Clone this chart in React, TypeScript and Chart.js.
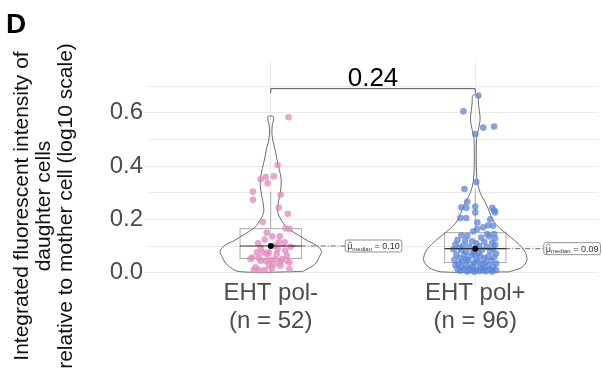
import React, { useEffect, useRef } from 'react';
import { Chart, registerables } from 'chart.js';

Chart.register(...registerables);

// ---------------- data ----------------
const categories = ['EHT pol-', 'EHT pol+'];
const groupSizes = [52, 96];
const yTickValues = [0, 0.1, 0.2, 0.3, 0.4, 0.5, 0.6, 0.7];
const yTickLabels = ['0.0', '', '0.2', '', '0.4', '', '0.6', ''];
const yTitleLines = ['Integrated fluorescent intensity of', 'daughter cells', 'relative to mother cell (log10 scale)'];
const panelTag = 'D';
const pValueLabel = '0.24';
const medianValues = [0.10, 0.09];
const medianLabels = ['0.10', '0.09'];
const q1Values = [0.053, 0.038];
const q3Values = [0.165, 0.15];
const whiskerLowValues = [0.004, 0.003];
const whiskerHighValues = [0.304, 0.314];

const polMinusValues = [
  0.583, 0.404, 0.361, 0.359, 0.350, 0.335, 0.304, 0.292, 0.273, 0.244, 0.221, 0.190, 0.166, 0.164,
  0.136, 0.136, 0.124, 0.110, 0.114, 0.114, 0.101, 0.076, 0.076, 0.070, 0.089, 0.083, 0.057, 0.051,
  0.045, 0.045, 0.048, 0.051, 0.064, 0.045, 0.051, 0.026, 0.014, 0.010, 0.010, 0.010, 0.020, 0.030,
  0.038, 0.076, 0.055, 0.030, 0.097, 0.039, 0.071, 0.094, 0.150, 0.015,
];
const polMinusJitter = [
  0.087, 0.034, 0.015, -0.024, -0.049, -0.015, -0.087, 0.049, -0.087, 0.039, 0.083, -0.039, 0.073, 0.092,
  0.008, 0.045, -0.029, -0.062, 0.039, 0.068, 0.019, -0.067, -0.039, -0.018, 0.034, 0.071, -0.091, -0.099,
  -0.050, -0.026, -0.001, 0.055, 0.079, 0.079, 0.023, 0.047, 0.091, -0.083, -0.058, -0.029, -0.074, 0.015,
  0.092, -0.010, -0.058, -0.010, 0.097, 0.047, 0.029, -0.049, -0.019, 0.005,
];

const polPlusValues = [
  0.664, 0.605, 0.544, 0.548, 0.520, 0.340, 0.314, 0.266, 0.245, 0.243, 0.248, 0.243, 0.233, 0.226,
  0.226, 0.205, 0.205, 0.200, 0.188, 0.178, 0.170, 0.176, 0.164, 0.155, 0.145, 0.145,
  0.140, 0.138, 0.132, 0.136, 0.128,
  0.122, 0.118, 0.115, 0.112, 0.120,
  0.105, 0.102, 0.098, 0.100, 0.096, 0.104, 0.094,
  0.088, 0.085, 0.082, 0.086, 0.080, 0.078, 0.072, 0.075,
  0.068, 0.066, 0.064, 0.062, 0.060, 0.058, 0.055, 0.052, 0.054,
  0.048, 0.046, 0.045, 0.042, 0.040, 0.038, 0.036, 0.034, 0.032, 0.031,
  0.028, 0.027, 0.025, 0.024, 0.022, 0.020, 0.019, 0.018, 0.016,
  0.014, 0.013, 0.012, 0.011, 0.010, 0.009, 0.008, 0.007, 0.006, 0.005, 0.004, 0.004, 0.003,
  0.090, 0.070, 0.050, 0.110,
];
const polPlusJitter = [
  0.015, -0.058, 0.039, 0.092, 0.000, 0.005, -0.053, -0.039, -0.068, -0.044, 0.000, 0.083, 0.092, 0.097,
  0.000, -0.073, -0.044, 0.073, 0.010, 0.063, 0.039, 0.087, 0.010, -0.010, 0.092, 0.058,
  -0.068, -0.039, 0.029, 0.068, 0.097,
  -0.087, -0.015, 0.044, 0.083, -0.049,
  -0.097, -0.058, -0.029, 0.019, 0.058, 0.097, -0.078,
  -0.107, -0.068, -0.010, 0.034, 0.073, -0.044, 0.102, 0.015,
  -0.092, -0.053, -0.019, 0.024, 0.063, 0.092, -0.073, 0.005, 0.044,
  -0.102, -0.034, 0.078, -0.063, 0.015, 0.049, -0.005, 0.102, -0.083, 0.034,
  -0.097, -0.044, 0.063, -0.015, 0.087, -0.068, 0.024, 0.044, -0.029,
  -0.087, -0.053, 0.005, 0.073, 0.102, -0.019, 0.039, -0.073, 0.019, 0.053, -0.039, 0.083, -0.005,
  0.087, -0.005, -0.044, 0.005,
];

// violin density profiles: value levels and half-widths (in category units)
const violinMinusLevels = [0.004, 0.03, 0.06, 0.08, 0.10, 0.12, 0.145, 0.17, 0.20, 0.23, 0.27, 0.31, 0.35, 0.39, 0.43, 0.46, 0.49, 0.52, 0.55, 0.585];
const violinMinusHalfWidth = [0.155, 0.214, 0.238, 0.248, 0.228, 0.180, 0.126, 0.078, 0.049, 0.034, 0.039, 0.049, 0.051, 0.041, 0.029, 0.022, 0.012, 0.006, 0.007, 0.014];
const violinPlusLevels = [0.003, 0.02, 0.045, 0.07, 0.09, 0.12, 0.15, 0.18, 0.21, 0.24, 0.27, 0.30, 0.34, 0.40, 0.46, 0.50, 0.525, 0.55, 0.58, 0.61, 0.64, 0.665];
const violinPlusHalfWidth = [0.165, 0.228, 0.252, 0.248, 0.233, 0.194, 0.146, 0.102, 0.078, 0.063, 0.044, 0.024, 0.010, 0.005, 0.005, 0.006, 0.012, 0.019, 0.024, 0.019, 0.015, 0.012];

// ---------------- styling ----------------
const FONT = "'Liberation Sans', Arial, Helvetica, sans-serif";
const PINK = 'rgba(228,140,192,0.78)';
const BLUE = 'rgba(92,134,218,0.75)';
const GRID = '#ebebeb';
const TEXT_GREY = '#4d4d4d';
const BOX_HALF = 0.15;
const LABEL_OFFSETS = [0.364, 0.335];
const BRACKET_Y = 0.69;
const BRACKET_DROP = 0.016;
const PTEXT_Y = 0.70;

function drawMedianLabel(ctx: CanvasRenderingContext2D, xLeft: number, yc: number, value: string) {
  const pad = 2;
  ctx.font = `9px ${FONT}`;
  const muW = ctx.measureText('μ').width;
  const restText = ` = ${value}`;
  const restW = ctx.measureText(restText).width;
  ctx.font = `6px ${FONT}`;
  const subW = ctx.measureText('median').width;
  const w = pad * 2 + muW + subW + restW;
  const h = 12;
  const top = yc - h / 2;
  ctx.save();
  ctx.beginPath();
  (ctx as any).roundRect(xLeft, top, w, h, 2);
  ctx.fillStyle = '#ffffff';
  ctx.fill();
  ctx.strokeStyle = '#777777';
  ctx.lineWidth = 0.8;
  ctx.stroke();
  ctx.fillStyle = '#333333';
  ctx.textBaseline = 'alphabetic';
  ctx.textAlign = 'left';
  let x = xLeft + pad;
  ctx.font = `9px ${FONT}`;
  ctx.fillText('μ', x, yc + 3);
  ctx.beginPath();
  ctx.moveTo(x + 0.5, top + 3);
  ctx.lineTo(x + muW / 2, top + 1.5);
  ctx.lineTo(x + muW - 0.5, top + 3);
  ctx.lineWidth = 0.6;
  ctx.strokeStyle = '#333333';
  ctx.stroke();
  x += muW;
  ctx.font = `6px ${FONT}`;
  ctx.fillText('median', x, yc + 4.5);
  x += subW;
  ctx.font = `9px ${FONT}`;
  ctx.fillText(restText, x, yc + 3);
  ctx.restore();
}

const overlayPlugin = {
  id: 'overlay',
  beforeDatasetsDraw(chart: any) {
    const { ctx, scales } = chart;
    const xs = scales.x;
    const ys = scales.y;
    ctx.save();
    for (let i = 0; i < categories.length; i++) {
      const c = i + 1;
      const xc = xs.getPixelForValue(c);
      const l = xs.getPixelForValue(c - BOX_HALF);
      const r = xs.getPixelForValue(c + BOX_HALF);
      const t = ys.getPixelForValue(q3Values[i]);
      const b = ys.getPixelForValue(q1Values[i]);
      ctx.strokeStyle = '#ababab';
      ctx.lineWidth = 1;
      ctx.strokeRect(l, t, r - l, b - t);
      ctx.beginPath();
      ctx.moveTo(xc, t);
      ctx.lineTo(xc, ys.getPixelForValue(whiskerHighValues[i]));
      ctx.moveTo(xc, b);
      ctx.lineTo(xc, ys.getPixelForValue(whiskerLowValues[i]));
      ctx.stroke();
    }
    ctx.restore();
  },
  afterDatasetsDraw(chart: any) {
    const { ctx, scales } = chart;
    const xs = scales.x;
    const ys = scales.y;
    ctx.save();
    for (let i = 0; i < categories.length; i++) {
      const c = i + 1;
      const xc = xs.getPixelForValue(c);
      const ym = ys.getPixelForValue(medianValues[i]);
      const lx = xs.getPixelForValue(c + LABEL_OFFSETS[i]);
      ctx.beginPath();
      ctx.setLineDash([5, 2, 1, 2]);
      ctx.strokeStyle = '#444444';
      ctx.lineWidth = 0.8;
      ctx.moveTo(xc, ym);
      ctx.lineTo(lx, ym);
      ctx.stroke();
      ctx.setLineDash([]);
      ctx.beginPath();
      ctx.strokeStyle = '#333333';
      ctx.lineWidth = 1.2;
      ctx.moveTo(xs.getPixelForValue(c - BOX_HALF), ym);
      ctx.lineTo(xs.getPixelForValue(c + BOX_HALF), ym);
      ctx.stroke();
      ctx.beginPath();
      ctx.fillStyle = '#000000';
      ctx.arc(xc, ym, 3, 0, Math.PI * 2);
      ctx.fill();
      drawMedianLabel(ctx, lx, ym, medianLabels[i]);
    }
    const x1 = xs.getPixelForValue(1);
    const x2 = xs.getPixelForValue(2);
    const yb = ys.getPixelForValue(BRACKET_Y);
    const yd = ys.getPixelForValue(BRACKET_Y - BRACKET_DROP);
    ctx.beginPath();
    ctx.strokeStyle = '#555555';
    ctx.lineWidth = 1;
    ctx.moveTo(x1, yd);
    ctx.lineTo(x1, yb);
    ctx.lineTo(x2, yb);
    ctx.lineTo(x2, yd);
    ctx.stroke();
    ctx.fillStyle = '#000000';
    ctx.font = `26px ${FONT}`;
    ctx.textAlign = 'center';
    ctx.textBaseline = 'alphabetic';
    ctx.fillText(pValueLabel, xs.getPixelForValue(1.5), ys.getPixelForValue(PTEXT_Y));
    ctx.restore();
  },
  afterDraw(chart: any) {
    const { ctx } = chart;
    ctx.save();
    ctx.fillStyle = '#000000';
    ctx.font = `bold 28px ${FONT}`;
    ctx.textAlign = 'left';
    ctx.textBaseline = 'alphabetic';
    ctx.fillText(panelTag, 6, 33);
    ctx.font = `21px ${FONT}`;
    ctx.fillStyle = '#111111';
    ctx.textAlign = 'center';
    ctx.textBaseline = 'middle';
    const centers = [22, 44, 66];
    yTitleLines.forEach((line, i) => {
      ctx.save();
      ctx.translate(centers[i], 206);
      ctx.rotate(-Math.PI / 2);
      ctx.fillText(line, 0, 0);
      ctx.restore();
    });
    ctx.restore();
  },
};

export default function App() {
  const ref = useRef<HTMLCanvasElement>(null);
  useEffect(() => {
    const canvas = ref.current;
    if (!canvas) return;
    Chart.defaults.font.family = FONT;
    const toPoints = (cat: number, vals: number[], jit: number[]) => vals.map((v, i) => ({ x: cat + jit[i], y: v }));
    const violinPath = (cat: number, levels: number[], half: number[]) => {
      const right = levels.map((v, i) => ({ x: cat + half[i], y: v }));
      const left = levels.map((v, i) => ({ x: cat - half[i], y: v })).reverse();
      return [...right, ...left, right[0]];
    };
    const chart = new Chart(canvas, {
      type: 'scatter',
      data: {
        datasets: [
          { data: toPoints(1, polMinusValues, polMinusJitter), backgroundColor: PINK, borderWidth: 0, pointRadius: 3.3, order: 1 } as any,
          { data: toPoints(2, polPlusValues, polPlusJitter), backgroundColor: BLUE, borderWidth: 0, pointRadius: 3.3, order: 1 } as any,
          { data: violinPath(1, violinMinusLevels, violinMinusHalfWidth), showLine: true, borderColor: '#5c5c5c', borderWidth: 0.9, pointRadius: 0, tension: 0.3, fill: false, order: 2 } as any,
          { data: violinPath(2, violinPlusLevels, violinPlusHalfWidth), showLine: true, borderColor: '#5c5c5c', borderWidth: 0.9, pointRadius: 0, tension: 0.3, fill: false, order: 2 } as any,
        ],
      },
      options: {
        responsive: false,
        animation: false,
        devicePixelRatio: 1,
        layout: { padding: { top: 62, left: 0, right: 0, bottom: 0 } },
        plugins: { legend: { display: false }, tooltip: { enabled: false } },
        scales: {
          x: {
            type: 'linear',
            min: 0.4,
            max: 2.6,
            afterBuildTicks: (s: any) => { s.ticks = [1, 2].map((v) => ({ value: v })); },
            afterFit: (s: any) => { s.height = 94; },
            grid: { color: GRID, tickColor: GRID, tickLength: 4 },
            border: { display: false },
            ticks: {
              autoSkip: false,
              maxRotation: 0,
              padding: -6,
              color: TEXT_GREY,
              font: { size: 24, lineHeight: 1.15 },
              callback: (v: any) => {
                const i = Math.round(Number(v)) - 1;
                return [categories[i], `(n = ${groupSizes[i]})`];
              },
            },
          },
          y: {
            type: 'linear',
            min: -0.035,
            max: 0.79,
            afterBuildTicks: (s: any) => { s.ticks = yTickValues.map((v) => ({ value: v })); },
            afterFit: (s: any) => { s.width = 148; },
            grid: {
              color: GRID,
              tickLength: 4,
              tickColor: (c: any) => (yTickLabels[c.index] ? GRID : 'rgba(0,0,0,0)'),
            },
            border: { display: false },
            ticks: {
              autoSkip: false,
              padding: 1,
              color: TEXT_GREY,
              font: { size: 24 },
              callback: (_v: any, i: number) => yTickLabels[i],
            },
          },
        },
      } as any,
      plugins: [overlayPlugin],
    });
    return () => chart.destroy();
  }, []);
  return (
    <div style={{ position: 'fixed', left: 0, top: 0, width: 602, height: 376, background: '#ffffff' }}>
      <canvas ref={ref} width={602} height={376} style={{ display: 'block', width: 602, height: 376 }} />
    </div>
  );
}
